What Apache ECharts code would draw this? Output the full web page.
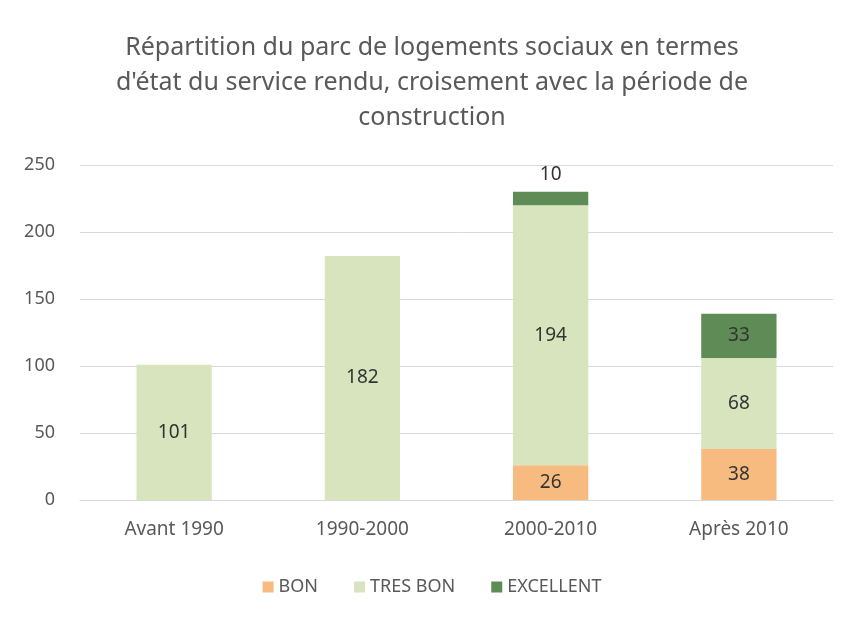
<!DOCTYPE html>
<html>
<head>
<meta charset="utf-8">
<script src="https://cdn.jsdelivr.net/npm/echarts@6/dist/echarts.min.js"></script>
<style>
  html, body { margin: 0; padding: 0; background: #fff; }
  #chart { width: 864px; height: 623px; }
</style>
</head>
<body>
<div id="chart"></div>
<script>
var categories = ["Avant 1990", "1990-2000", "2000-2010", "Après 2010"];
var bon = [null, null, 26, 38];
var tresBon = [101, 182, 194, 68];
var excellent = [null, null, 10, 33];
var yTicks = [0, 50, 100, 150, 200, 250];

var myChart = echarts.init(document.getElementById("chart"));
var font = "Noto Sans";
var Option = {
  backgroundColor: "#fff",
  title: {
    text: "Répartition du parc de logements sociaux en termes\nd'état du service rendu, croisement avec la période de\nconstruction",
    left: "center",
    top: 25,
    textStyle: {
      fontFamily: font,
      fontSize: 25,
      fontWeight: "normal",
      color: "#595959",
      lineHeight: 35
    }
  },
  legend: {
    bottom: 22,
    left: "center",
    itemWidth: 11,
    itemHeight: 11,
    itemGap: 36,
    icon: "rect",
    textStyle: { fontFamily: font, fontSize: 18, color: "#595959" },
    data: ["BON", "TRES BON", "EXCELLENT"]
  },
  grid: {
    top: 165,
    left: 80,
    right: 31,
    bottom: 123
  },
  xAxis: {
    type: "category",
    data: categories,
    axisTick: { show: false },
    axisLine: { lineStyle: { color: "#d9d9d9" } },
    axisLabel: { fontFamily: font, fontSize: 19, color: "#595959", margin: 20 }
  },
  yAxis: {
    type: "value",
    min: yTicks[0],
    max: yTicks[yTicks.length - 1],
    interval: 50,
    axisLine: { show: false },
    axisTick: { show: false },
    axisLabel: { fontFamily: font, fontSize: 18, color: "#595959", margin: 25 },
    splitLine: { lineStyle: { color: "#d9d9d9" } }
  },
  series: [
    {
      name: "BON",
      type: "bar",
      stack: "total",
      barWidth: "40%",
      itemStyle: { color: "#f7bb7f" },
      label: { show: true, position: "inside", fontFamily: font, fontSize: 19, color: "#333" },
      data: bon
    },
    {
      name: "TRES BON",
      type: "bar",
      stack: "total",
      itemStyle: { color: "#d8e4bd" },
      label: { show: true, position: "inside", fontFamily: font, fontSize: 19, color: "#333" },
      data: tresBon
    },
    {
      name: "EXCELLENT",
      type: "bar",
      stack: "total",
      itemStyle: { color: "#5f8b56" },
      label: { show: true, position: "inside", fontFamily: font, fontSize: 19, color: "#333" },
      data: excellent.map(function (v) {
        if (v !== null && v < 20) {
          return { value: v, label: { position: "top", distance: 8 } };
        }
        return v;
      })
    }
  ]
};
myChart.setOption(Option);
</script>
</body>
</html>
